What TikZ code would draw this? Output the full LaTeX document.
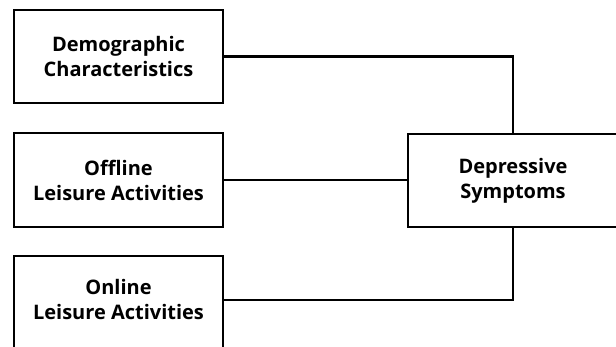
\documentclass[tikz,border=0pt]{standalone}
\usepackage{fontspec}
\setmainfont{Open Sans}[BoldFont={* Bold}]
\begin{document}
\begin{tikzpicture}[x=1pt,y=-1pt,
  lbl/.style={inner sep=0pt, align=center, font=\fontsize{20}{25}\selectfont\bfseries},
  box/.style={lbl, draw=black, line width=2.2pt, fill=white},
  link/.style={draw=black, line width=2.2pt}]
\useasboundingbox (0,0) rectangle (616,347);
\clip (0,0) rectangle (616,347);
\node[box, minimum width=209pt, minimum height=93pt] (demo) at (118.5,56.5) {Demographic\\Characteristics};
\node[box, minimum width=209pt, minimum height=94pt] (off) at (118.5,180) {Offline\\Leisure Activities};
\node[box, minimum width=209pt, minimum height=95pt, anchor=north] (on) at (118.5,255) {\vphantom{X}};
\node[lbl] (ontext) at (118.5,300) {Online\\Leisure Activities};
\node[box, minimum width=210pt, minimum height=93pt] (dep) at (513,180.5) {Depressive\\Symptoms};
\coordinate (c1) at (513,56.5);
\coordinate (c3) at (513,300);
\draw[link] (demo.east) -- (c1) -- (dep.north);
\draw[link] (off.east) -- (off.east -| dep.west);
\draw[link] (on.east |- c3) -- (c3) -- (dep.south);
\end{tikzpicture}
\end{document}
